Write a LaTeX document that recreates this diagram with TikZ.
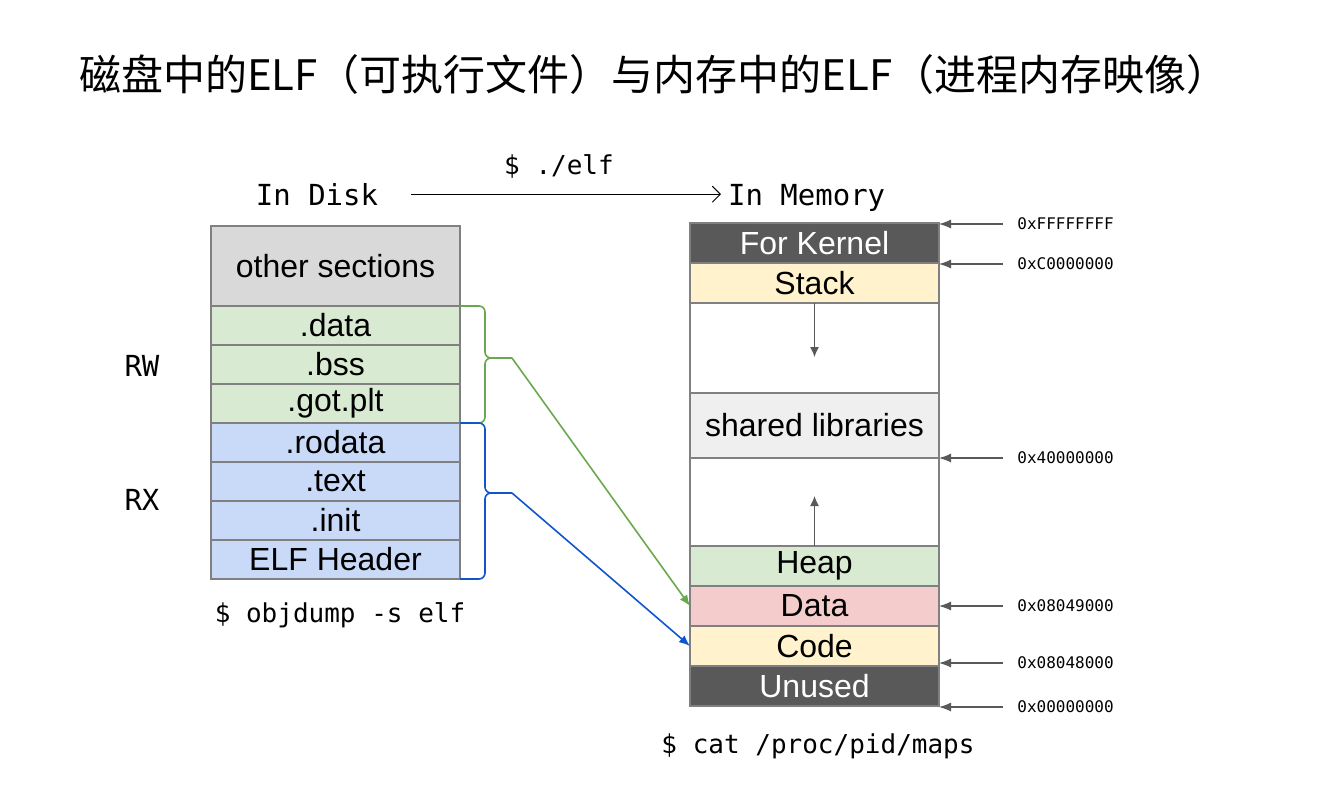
\documentclass[tikz,border=0pt]{standalone}
\usepackage{fontspec}
\setmainfont{Liberation Sans}
\setmonofont{DejaVu Sans Mono}
\newfontfamily\cjk{Noto Sans CJK SC}
\usetikzlibrary{positioning,arrows.meta}
\definecolor{linegray}{HTML}{808080}
\definecolor{othergray}{HTML}{D9D9D9}
\definecolor{libgray}{HTML}{EFEFEF}
\definecolor{darkgray}{HTML}{595959}
\definecolor{rwgreen}{HTML}{D9EAD3}
\definecolor{rxblue}{HTML}{C9DAF8}
\definecolor{codeyellow}{HTML}{FFF2CC}
\definecolor{datapink}{HTML}{F4CCCC}
\definecolor{greenline}{HTML}{6AA84F}
\definecolor{blueline}{HTML}{1155CC}
\begin{document}
\begin{tikzpicture}
            [x = 0.5pt, y = -0.5pt, node distance = 0pt,
             sect/.style = {draw = linegray, line width = 0.7pt, minimum width = 124.5pt,
                            minimum height = 19.5pt, inner sep = 0pt, outer sep = 0pt,
                            font = \fontsize{16}{16}\selectfont},
             seg/.style = {sect, minimum height = 20pt},
             mono/.style = {font = \ttfamily\fontsize{14.5}{14.5}\selectfont},
             cmd/.style = {font = \ttfamily\fontsize{13}{13}\selectfont},
             addr/.style = {anchor = west, inner sep = 0pt, inner xsep = 7pt,
                            font = \ttfamily\fontsize{8}{8}\selectfont},
             addrarrow/.style = {darkgray, line width = 0.6pt, -{Latex[length = 6pt, width = 4.5pt]}},
             growarrow/.style = {darkgray, line width = 0.6pt, -{Latex[length = 5pt, width = 4.5pt]}},
             brace/.style = {line width = 0.8pt, rounded corners = 3pt},
             map/.style = {line width = 0.8pt, -{Latex[length = 5.5pt, width = 4.5pt]}}]
            \useasboundingbox (0,0) rectangle (1334,800);
            % title
            \node[anchor = west, font = \cjk\fontsize{21}{21}\selectfont] (title) at (72,75)
                {磁盘中的ELF（可执行文件）与内存中的ELF（进程内存映像）};
            % headings
            \node[mono, anchor = base] (disk) at (317,205) {In Disk};
            \node[mono, anchor = base west] (memory) at (721,205) {In Memory};
            \node[cmd] (run) at (559,166) {\$ ./elf};
            \draw[line width = 0.5pt, -{Straight Barb[length = 4pt, width = 8pt]}, shorten <= 13pt]
                (disk.east) -- (disk.east -| memory.west);
            % ELF file on disk
            \node[sect, fill = othergray, minimum height = 40pt, anchor = north west]
                (other) at (211,226) {other sections};
            \node[sect, fill = rwgreen, below = of other] (data) {.data};
            \node[sect, fill = rwgreen, below = of data] (bss) {.bss};
            \node[sect, fill = rwgreen, below = of bss] (got) {.got.plt};
            \node[sect, fill = rxblue, below = of got] (rodata) {.rodata};
            \node[sect, fill = rxblue, below = of rodata] (text) {.text};
            \node[sect, fill = rxblue, below = of text] (init) {.init};
            \node[sect, fill = rxblue, below = of init] (header) {ELF Header};
            \node[mono] (rw) at (142,366) {RW};
            \node[mono] (rx) at (142,500) {RX};
            \node[cmd] (objdump) at (340,615) {\$ objdump -s elf};
            % process image in memory
            \node[seg, fill = darkgray, text = white, anchor = north west]
                (kernel) at (690,223) {For Kernel};
            \node[seg, fill = codeyellow, below = of kernel] (stack) {Stack};
            \node[seg, minimum height = 45pt, below = of stack] (gapa) {};
            \node[seg, fill = libgray, minimum height = 32.5pt, below = of gapa] (shlib) {shared libraries};
            \node[seg, minimum height = 44pt, below = of shlib] (gapb) {};
            \node[seg, fill = rwgreen, below = of gapb] (heap) {Heap};
            \node[seg, fill = datapink, below = of heap] (dataseg) {Data};
            \node[seg, fill = codeyellow, below = of dataseg] (code) {Code};
            \node[seg, fill = darkgray, text = white, below = of code] (unused) {Unused};
            \node[cmd] (maps) at (818,746) {\$ cat /proc/pid/maps};
            \draw[growarrow] (gapa.north) -- ++(0,54);
            \draw[growarrow] (gapb.south) -- ++(0,-50);
            % addresses
            \node[addr] (atop) at (1003,224) {0xFFFFFFFF};
            \node[addr] (akern) at (1003,264) {0xC0000000};
            \node[addr] (alib) at (1003,458) {0x40000000};
            \node[addr] (adata) at (1003,606) {0x08049000};
            \node[addr] (acode) at (1003,663) {0x08048000};
            \node[addr] (azero) at (1003,707) {0x00000000};
            \draw[addrarrow] (atop.west) -- (atop.west -| kernel.east);
            \draw[addrarrow] (akern.west) -- (akern.west -| kernel.east);
            \draw[addrarrow] (alib.west) -- (alib.west -| kernel.east);
            \draw[addrarrow] (adata.west) -- (adata.west -| kernel.east);
            \draw[addrarrow] (acode.west) -- (acode.west -| kernel.east);
            \draw[addrarrow] (azero.west) -- (azero.west -| kernel.east);
            % mapping of sections to segments
            \coordinate (rwtip) at (512,358);
            \coordinate (rxtip) at (512,493);
            \draw[brace, greenline] (data.north east) -- ++(25,0) |- (rwtip);
            \draw[brace, greenline] (got.south east) -- ++(25,0) |- (rwtip);
            \draw[brace, blueline] (rodata.north east) -- ++(25,0) |- (rxtip);
            \draw[brace, blueline] (header.south east) -- ++(25,0) |- (rxtip);
            \draw[map, greenline] (rwtip) -- (dataseg.west);
            \draw[map, blueline] (rxtip) -- (code.west);
        \end{tikzpicture}
\end{document}
